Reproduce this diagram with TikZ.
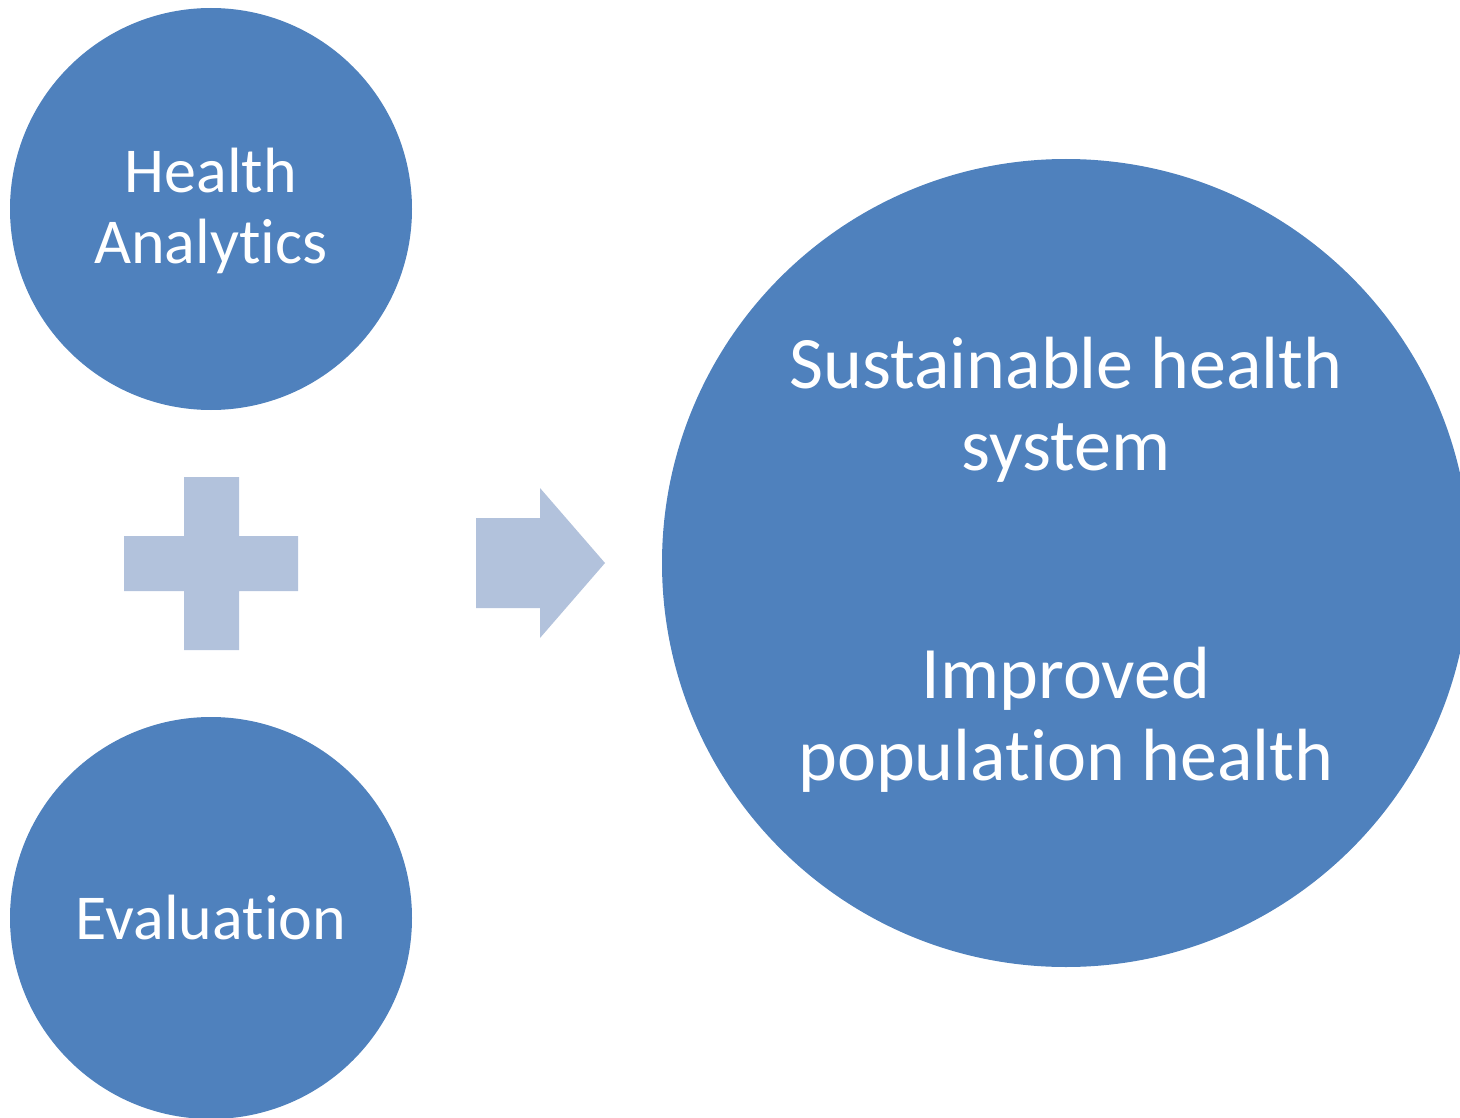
\documentclass[tikz,border=0pt]{standalone}
\usepackage{fontspec}
\setmainfont{Carlito}[Ligatures=NoCommon]
\definecolor{circblue}{HTML}{4F81BD}
\definecolor{lightblue}{HTML}{B2C2DC}
\begin{document}
\begin{tikzpicture}[x=1pt,y=-1pt,
  bubble/.style={circle,fill=circblue,draw=none,inner sep=0pt},
  btext/.style={text=white,align=center,inner sep=0pt},
  shapefill/.style={fill=lightblue,draw=none}]
\useasboundingbox (0,0) rectangle (1460,1118);
\clip (0,0) rectangle (1460,1118);
\node[bubble,minimum size=402pt] (ha) at (211,209) {};
\node[bubble,minimum size=402pt] (ev) at (211,918) {};
\node[bubble,minimum size=808pt] (big) at (1066,563) {};
\node[btext,font=\fontsize{64}{71}\selectfont,anchor=base] (hat) at (211,264) {Health\\Analytics};
\node[btext,font=\fontsize{64}{71}\selectfont,anchor=base] (evt) at (211,939) {Evaluation};
\node[btext,font=\fontsize{74}{82}\selectfont,anchor=base] (st) at (1066,470) {Sustainable health\\system};
\node[btext,font=\fontsize{74}{82}\selectfont,anchor=base] (it) at (1066,780) {Improved\\population health};
% plus sign
\path[shapefill] (184,477) -- (239,477) -- (239,536) -- (298,536) -- (298,591) -- (239,591) -- (239,650) -- (184,650) -- (184,591) -- (124,591) -- (124,536) -- (184,536) -- cycle;
% arrow
\path[shapefill] (476,518) -- (540,518) -- (540,488) -- (605,563) -- (540,638) -- (540,608) -- (476,608) -- cycle;
\end{tikzpicture}
\end{document}
